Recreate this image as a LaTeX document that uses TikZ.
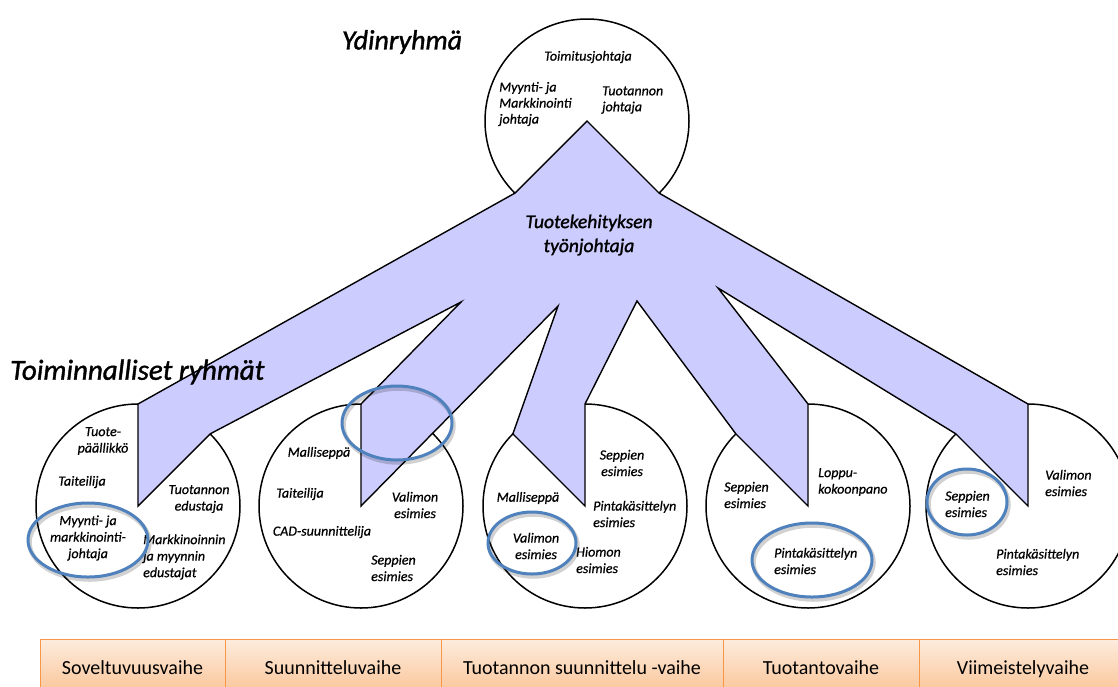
\documentclass[tikz,border=0pt]{standalone}
\usepackage{fontspec}
\setmainfont{Carlito}
\newfontfamily\labelfont{Carlito}[FakeBold=0.7]
\newfontfamily\headfont{Carlito}[FakeBold=1.3]
\usetikzlibrary{calc}
\definecolor{branchfill}{RGB}{204,204,255}
\definecolor{markblue}{RGB}{79,129,189}
\definecolor{barline}{RGB}{247,150,70}
\definecolor{bartop}{RGB}{253,236,222}
\definecolor{barbot}{RGB}{250,192,143}

\begin{document}
\begin{tikzpicture}[x=1pt,y=-1pt,
  outline/.style={draw=black,line width=1.4pt,line join=miter},
  group/.style={draw=black,line width=1.5pt,fill=white},
  role/.style={font=\labelfont\itshape\fontsize{14}{16.5}\selectfont,inner sep=0pt,align=center},
  roleL/.style={role,align=left,anchor=west},
  heading/.style={font=\headfont\itshape\fontsize{29}{33}\selectfont,inner sep=0pt},
  ring/.style={draw=markblue,line width=3pt},
  ringshadow/.style={draw=black,opacity=0.18,line width=4.5pt},
  phase/.style={draw=barline,line width=0.8pt,top color=bartop,bottom color=barbot},
  phasetext/.style={font=\fontsize{20}{24}\selectfont,inner sep=0pt,anchor=base}
]
\useasboundingbox (0,0) rectangle (1118,686);
\clip (0,0) rectangle (1118,686);
\def\R{102}

% circle centres: core group and the five functional groups
\coordinate (c0) at (587,121);
\coordinate (c1) at (138,506);
\coordinate (c2) at (361,506);
\coordinate (c3) at (585,506);
\coordinate (c4) at (808,506);
\coordinate (c5) at (1028,506);
% notches between the branches
\coordinate (v12) at (461,302);
\coordinate (v23) at (558,306);
\coordinate (v34) at (637,301);
\coordinate (v45) at (718,288);

% group circles
\foreach \c in {c0,c1,c2,c3,c4,c5}
  \draw[group] (\c) circle[radius=\R];

% the product development foreman: one shape branching into every group
\draw[outline,fill=branchfill]
  (c0) -- ($(c0)+(45:\R)$) -- ($(c5)+(270:\R)$) -- (c5) -- ($(c5)+(225:\R)$)
  -- (v45) -- ($(c4)+(270:\R)$) -- (c4) -- ($(c4)+(225:\R)$)
  -- (v34) -- ($(c3)+(270:\R)$) -- (c3) -- ($(c3)+(225:\R)$)
  -- (v23) -- (c2) -- ($(c2)+(270:\R)$)
  -- (v12) -- ($(c1)+(315:\R)$) -- (c1) -- ($(c1)+(270:\R)$)
  -- ($(c0)+(135:\R)$) -- cycle;

% headings
\node[heading,font=\headfont\itshape\fontsize{28}{32}\selectfont] (core) at (402,42) {Ydinryhmä};
\node[heading,anchor=west] (func) at (10,372) {Toiminnalliset ryhmät};
\node[font=\headfont\itshape\fontsize{19.5}{24}\selectfont,align=center,inner sep=0pt] (lead) at (589,235) {Tuotekehityksen\\työnjohtaja};

% core group members
\node[role] (ceo) at (588,57) {Toimitusjohtaja};
\node[roleL,font=\labelfont\itshape\fontsize{14}{16}\selectfont] (salesdir) at (499,104) {Myynti- ja\\Markkinointi\\johtaja};
\node[roleL,font=\labelfont\itshape\fontsize{14}{16}\selectfont] (proddir) at (602,100) {Tuotannon\\johtaja};

% group 1
\node[role] (g1a) at (103,441) {Tuote-\\päällikkö};
\node[role] (g1b) at (82,482) {Taiteilija};
\node[role] (g1c) at (88,538) {Myynti- ja\\markkinointi-\\johtaja};
\node[role] (g1d) at (199,499) {Tuotannon\\edustaja};
\node[roleL] (g1e) at (143,557) {Markkinoinnin\\ja myynnin\\edustajat};

% group 2
\node[role] (g2a) at (319,453) {Malliseppä};
\node[role] (g2b) at (300,494) {Taiteilija};
\node[role] (g2c) at (322,532) {CAD-suunnittelija};
\node[role] (g2d) at (415,505) {Valimon\\esimies};
\node[roleL] (g2e) at (371,568) {Seppien\\esimies};

% group 3
\node[role] (g3a) at (622,463) {Seppien\\esimies};
\node[role] (g3b) at (528,498) {Malliseppä};
\node[roleL] (g3c) at (593,514) {Pintakäsittelyn\\esimies};
\node[role] (g3d) at (536,546) {Valimon\\esimies};
\node[roleL] (g3e) at (576,560) {Hiomon\\esimies};

% group 4
\node[roleL] (g4a) at (724,495) {Seppien\\esimies};
\node[roleL] (g4b) at (818,482) {Loppu-\\kokoonpano};
\node[roleL] (g4c) at (774,561) {Pintakäsittelyn\\esimies};

% group 5
\node[roleL] (g5a) at (945,504) {Seppien\\esimies};
\node[roleL] (g5b) at (1045,483) {Valimon\\esimies};
\node[roleL] (g5c) at (996,562) {Pintakäsittelyn\\esimies};

% highlight rings
\foreach \x/\y/\rx/\ry in {88/540/60/37, 397/423/55/37, 532/543/44/31, 812/560/60/37, 967/502/40/33}{
  \draw[ringshadow] (\x+1.5,\y+2.5) ellipse[x radius=\rx, y radius=\ry];
  \draw[ring] (\x,\y) ellipse[x radius=\rx, y radius=\ry];
}

% phase bar
\foreach \a/\b in {40/225, 225/441, 441/723, 723/919, 919/1130}
  \draw[phase] (\a,639) rectangle (\b,700);
\node[phasetext] (ph1) at (132.5,674) {Soveltuvuusvaihe};
\node[phasetext] (ph2) at (333,674) {Suunnitteluvaihe};
\node[phasetext] (ph3) at (582,674) {Tuotannon suunnittelu -vaihe};
\node[phasetext] (ph4) at (821,674) {Tuotantovaihe};
\node[phasetext] (ph5) at (1023,674) {Viimeistelyvaihe};
\end{tikzpicture}
\end{document}
